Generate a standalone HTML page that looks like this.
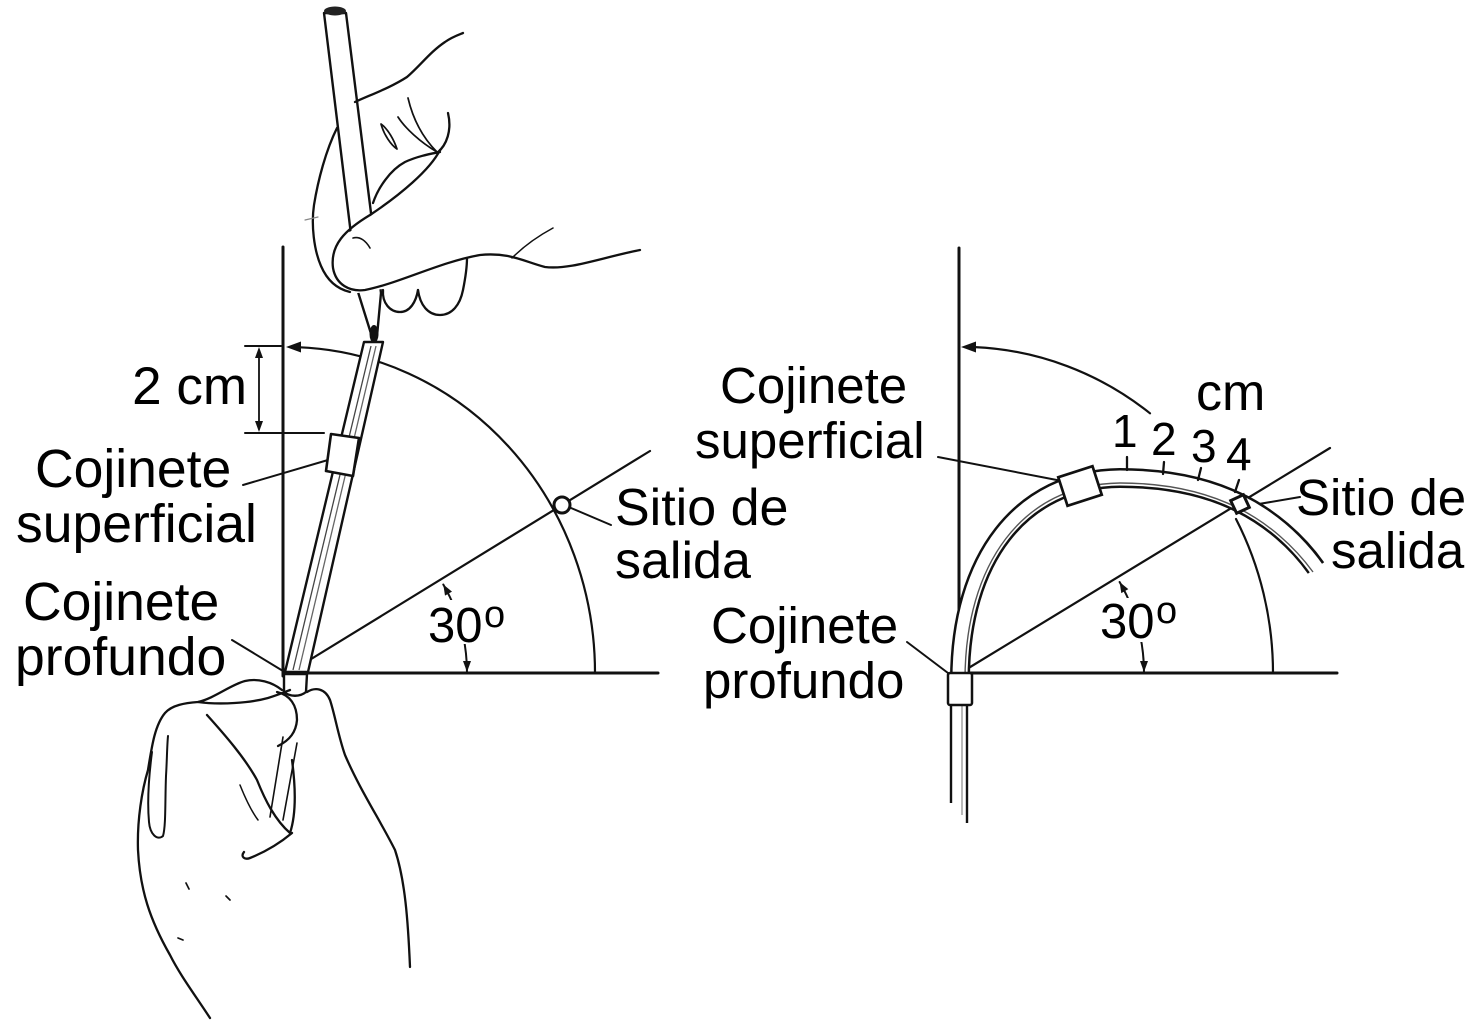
<!DOCTYPE html>
<html>
<head>
<meta charset="utf-8">
<style>
html,body{margin:0;padding:0;background:#fff;}
svg{display:block;}
text{font-family:"Liberation Sans",Arial,sans-serif;fill:#000;}
</style>
</head>
<body>
<svg width="1469" height="1024" viewBox="0 0 1469 1024" xmlns="http://www.w3.org/2000/svg">
<rect width="1469" height="1024" fill="#fff"/>

<!-- ================= LEFT DIAGRAM ================= -->
<g stroke="#111" fill="none" stroke-linecap="round" stroke-linejoin="round">
  <path d="M283 247 L283 676" stroke-width="3"/>
  <path d="M283 673 L658 673" stroke-width="3"/>
  <path d="M298 347.2 A308 326 0 0 1 595 673" stroke-width="2.2"/>
  <path d="M290 672 L650 451" stroke-width="2.2"/>
  <path d="M443.3 584.5 A177 177 0 0 1 467 673" stroke-width="2"/>
  <path d="M245 346 L281 346" stroke-width="2"/>
  <path d="M245 433 L324 433" stroke-width="2"/>
  <path d="M259 350 L259 429" stroke-width="1.8"/>
  <path d="M243 485 L328 460" stroke-width="2"/>
  <path d="M232 640 L283 671" stroke-width="2"/>
  <path d="M571 508 L611 525" stroke-width="2"/>
</g>
<g fill="#111">
  <polygon points="286,347 301,341.5 301,352.5"/>
  <polygon points="259,347 255,358 263,358"/>
  <polygon points="259,432 255,421 263,421"/>
  <polygon points="443.3,584.5 452,591.6 445,595.6"/>
  <polygon points="467,672 463,661 471,661"/>
</g>
<circle cx="562" cy="505" r="8" fill="#fff" stroke="#111" stroke-width="3"/>

<!-- rod (upper) -->
<path d="M324 13 L346 13 L381 293 L377 336 L373 340 L358 292 Z" fill="#fff" stroke="#111" stroke-width="2.4" stroke-linejoin="round"/>
<ellipse cx="335" cy="11" rx="11" ry="4.5" fill="#222"/>
<polygon points="340,240 362,222 395,199 400,286 352,294" fill="#fff"/>
<ellipse cx="374" cy="334" rx="4.5" ry="9" fill="#111"/>

<!-- catheter lower -->
<path d="M364 342 L383 342 L308 672 L285 672 Z" fill="#fff" stroke="#111" stroke-width="2.4" stroke-linejoin="round"/>
<path d="M371 346 L293 670" stroke="#444" stroke-width="1.3" fill="none"/>
<path d="M376 346 L299 670" stroke="#666" stroke-width="1.3" fill="none"/>
<polygon points="331,434 359,438 353,476 326,471" fill="#fff" stroke="#111" stroke-width="2.6" stroke-linejoin="round"/>
<path d="M284 674 L307 674 L306 692 C300 697 290 697 284 692 Z" fill="#fff" stroke="#111" stroke-width="2.4"/>

<!-- upper hand -->
<g stroke="#111" fill="none" stroke-width="2.3" stroke-linecap="round" stroke-linejoin="round">
  <path d="M355 102 C370 95 390 88 407 77 C420 66 430 52 445 42 C452 37 458 35 463 33"/>
  <path d="M337 128 C326 150 318 180 314 205 C311 225 314 250 321 266 C327 280 337 289 350 292"/>
  <path d="M440 150 C430 170 400 195 370 215 C345 230 330 245 333 268 C336 285 350 292 365 290 C400 283 440 262 480 255 C510 252 525 262 545 267 C570 270 600 258 640 250"/>
  <path d="M353 238 C360 236 366 241 370 248" stroke-width="1.6"/>
  <path d="M373 203 C378 188 390 170 405 162 C418 156 430 154 440 152"/>
  <path d="M381 124 C384 135 391 145 397 149 C394 140 388 129 381 124 Z" stroke-width="1.7"/>
  <path d="M398 117 C405 128 420 142 437 152" stroke-width="1.7"/>
  <path d="M408 98 C412 115 420 135 437 152" stroke-width="1.7"/>
  <path d="M448 113 C452 130 447 145 437 153"/>
  <path d="M383 290 C382 303 390 312 400 312 C410 312 416 302 418 290"/>
  <path d="M418 290 C420 305 428 315 440 315 C452 315 460 305 463 290 C466 275 467 265 467 258"/>
  <path d="M512 258 C525 245 540 235 553 228" stroke-width="1.5"/>
  <path d="M305 220 L318 217" stroke-width="1.2" stroke="#888"/>
</g>

<!-- lower hand -->
<g stroke="#111" fill="none" stroke-width="2.3" stroke-linecap="round" stroke-linejoin="round">
  <path d="M210 1018 C195 995 180 975 170 955 C150 920 140 890 138 850 C137 820 142 790 148 770 C152 745 155 725 165 713 C172 705 185 703 198 702 C215 698 230 685 245 681 C258 678 272 682 282 690"/>
  <path d="M152 752 C149 775 147 800 149 822 C150 834 157 841 163 836 C166 826 165 800 166 776 C167 760 167 746 168 736" stroke-width="2"/>
  <path d="M198 702 C220 705 250 703 268 698 C278 695 285 692 290 690"/>
  <path d="M277 692 C290 695 297 705 297 720 C296 732 290 740 278 746"/>
  <path d="M207 715 C225 735 245 758 257 780 C265 800 275 820 290 833"/>
  <path d="M283 737 L270 817" stroke-width="1.6"/>
  <path d="M297 743 L283 820" stroke-width="1.6"/>
  <path d="M307 692 C315 687 325 688 330 700 C335 715 338 735 345 755 C360 790 380 820 395 850 C405 880 408 920 410 967"/>
  <path d="M292 833 C280 843 265 852 250 858 C245 860 240 857 244 852"/>
  <path d="M290 833 C296 815 296 790 292 760"/>
  <path d="M240 785 C246 800 252 812 258 820" stroke-width="1.5"/>
  <path d="M186 883 L189 889" stroke-width="1.7"/>
  <path d="M226 896 L230 900" stroke-width="1.7"/>
  <path d="M178 938 L183 940" stroke-width="1.7"/>
</g>

<!-- left texts -->
<rect x="428" y="600" width="60" height="44" fill="#fff"/>
<text x="247" y="404" font-size="53" text-anchor="end">2 cm</text>
<text x="35" y="487" font-size="53.5">Cojinete</text>
<text x="16" y="542" font-size="53.5">superficial</text>
<text x="23" y="620" font-size="53.5">Cojinete</text>
<text x="15" y="675" font-size="53.5">profundo</text>
<text x="615" y="525" font-size="52">Sitio de</text>
<text x="615" y="578" font-size="52">salida</text>
<text x="428" y="642" font-size="49">30</text>
<text x="484" y="627" font-size="38">o</text>

<!-- ================= RIGHT DIAGRAM ================= -->
<g stroke="#111" fill="none" stroke-linecap="round" stroke-linejoin="round">
  <path d="M959 248 L959 672" stroke-width="3"/>
  <path d="M965 673 L1337 673" stroke-width="3"/>
  <path d="M975 347.1 A311 326 0 0 1 1150 413.3" stroke-width="2.2"/>
  <path d="M1236 519 A311 326 0 0 1 1273 673" stroke-width="2.2"/>
  <path d="M962 672 L1330 448" stroke-width="2.2"/>
  <path d="M1119.6 582 A182 182 0 0 1 1144 673" stroke-width="2"/>
  <path d="M938 457 L1062 481" stroke-width="2"/>
  <path d="M907 642 L948 673" stroke-width="2"/>
  <path d="M1247 506 L1300 497" stroke-width="2"/>
</g>
<g fill="#111">
  <polygon points="961,347 976,341.5 976,352.5"/>
  <polygon points="1119.6,582 1128.3,589.1 1121.3,593.1"/>
  <polygon points="1144,672 1140,661 1148,661"/>
</g>

<!-- tube -->
<g fill="none" stroke-linecap="butt">
  <path d="M960 690 L960 680 C960 560 1020 479 1120 478 C1170 478 1210 488 1240 503 C1270 518 1297 541 1316 568" stroke="#111" stroke-width="20"/>
  <path d="M960 692 L960 680 C960 560 1020 479 1120 478 C1170 478 1210 488 1240 503 C1270 518 1297 541 1318 571" stroke="#fff" stroke-width="15"/>
  <path d="M965 680 C965 565 1022 484 1120 483 C1170 483 1208 493 1238 508 C1268 523 1294 546 1313 572" stroke="#555" stroke-width="1.4"/>
</g>
<path d="M959 248 L959 600" stroke="#111" stroke-width="3"/>
<path d="M951 705 L951 803" stroke="#111" stroke-width="2.4"/>
<path d="M967 705 L967 823" stroke="#111" stroke-width="2.4"/>
<path d="M962 705 L962 815" stroke="#888" stroke-width="1.2"/>
<g stroke="#111" stroke-width="2.3" stroke-linecap="round">
  <path d="M1127 457 L1127 470"/>
  <path d="M1164 462 L1163 474"/>
  <path d="M1201 468 L1198 480"/>
  <path d="M1239 480 L1235 492"/>
</g>
<rect x="1062" y="471" width="36" height="30" fill="#fff" stroke="#111" stroke-width="2.7" transform="rotate(-18 1080 486)"/>
<rect x="1233" y="497" width="14" height="14" fill="#fff" stroke="#111" stroke-width="3" transform="rotate(-25 1240 504)"/>
<rect x="948" y="673" width="24" height="32" rx="2" fill="#fff" stroke="#111" stroke-width="2.5"/>

<!-- right texts -->
<rect x="1100" y="598" width="60" height="44" fill="#fff"/>
<text x="720" y="403" font-size="51">Cojinete</text>
<text x="695" y="458" font-size="51">superficial</text>
<text x="711" y="643" font-size="51">Cojinete</text>
<text x="703" y="698" font-size="51">profundo</text>
<text x="1196" y="410" font-size="52">cm</text>
<text x="1112" y="447" font-size="46">1</text>
<text x="1151" y="455" font-size="46">2</text>
<text x="1191" y="462" font-size="46">3</text>
<text x="1226" y="470" font-size="46">4</text>
<text x="1296" y="515" font-size="51">Sitio de</text>
<text x="1331" y="568" font-size="51">salida</text>
<text x="1100" y="638" font-size="49">30</text>
<text x="1156" y="623" font-size="38">o</text>
</svg>
</body>
</html>
